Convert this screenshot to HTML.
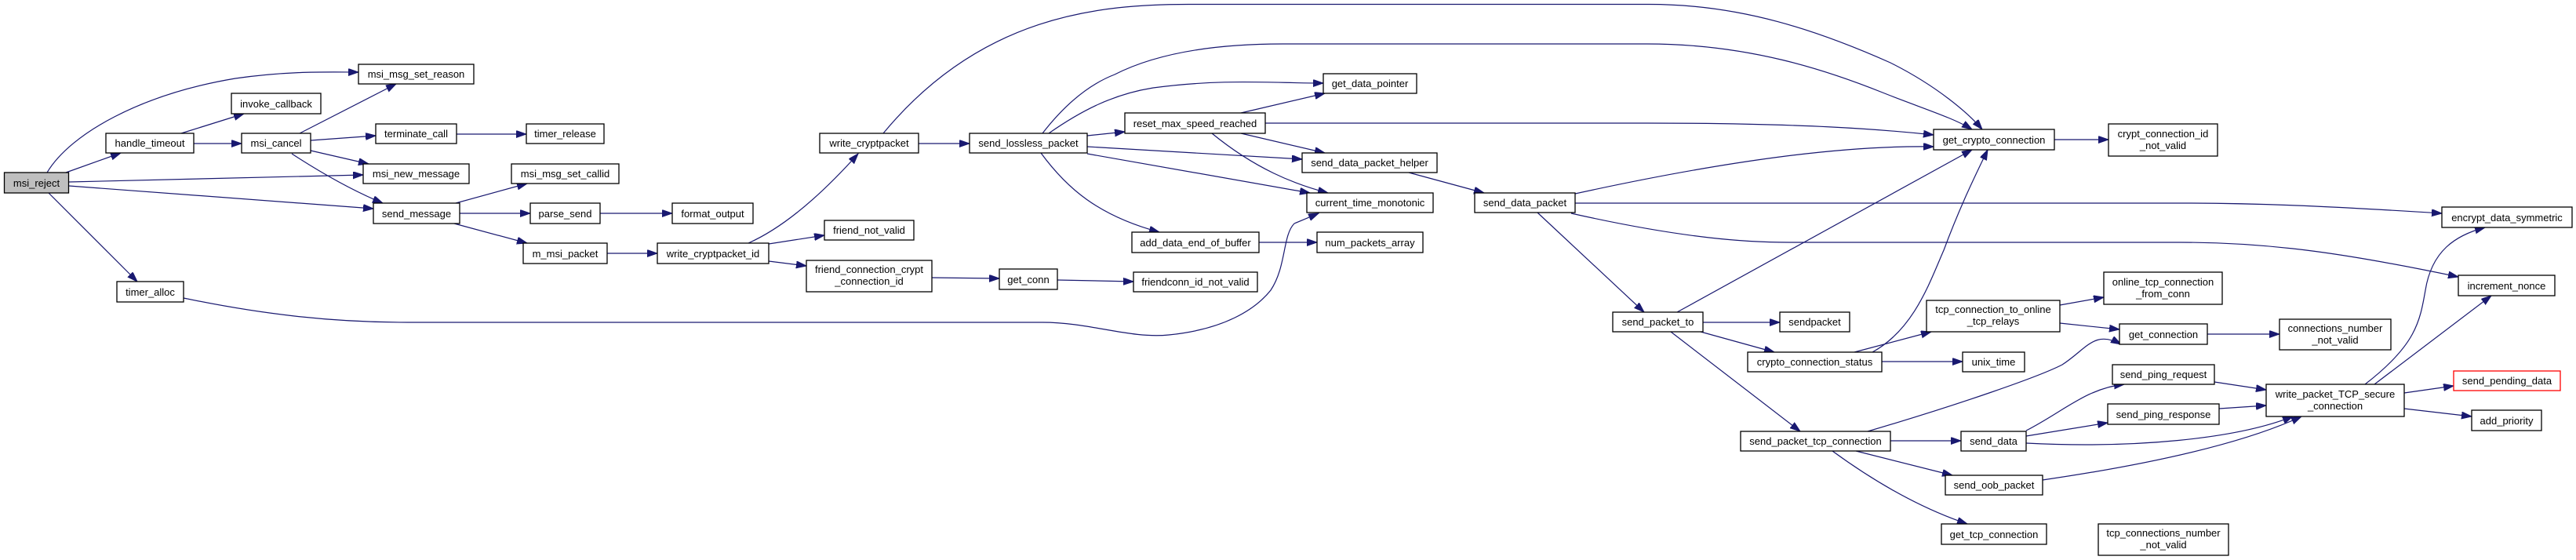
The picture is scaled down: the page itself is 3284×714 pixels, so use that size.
<!DOCTYPE html>
<html><head><meta charset="utf-8"><style>
html,body{margin:0;padding:0;background:#fff;}
svg{display:block;}
text{font-family:"Liberation Sans",Arial,sans-serif;font-size:13px;fill:#000;text-anchor:middle;}
rect{fill:#fff;stroke:#000;stroke-width:1.3;}
path.e{fill:none;stroke:#191970;stroke-width:1.2;}
</style></head><body>
<svg width="3284" height="714" viewBox="0 0 3284 714" xmlns="http://www.w3.org/2000/svg">
<defs><marker id="a" markerUnits="userSpaceOnUse" markerWidth="14" markerHeight="10" refX="13" refY="4.5" orient="auto"><path d="M0,0 L13,4.5 L0,9 z" fill="#191970" stroke="#191970"/></marker></defs>
<g marker-end="url(#a)">
<path class="e" d="M60,220 C90,170 180,120 300,100 C370,90 420,92 457,92"/>
<path class="e" d="M84,220 L154,195"/>
<path class="e" d="M88,232 L463,223"/>
<path class="e" d="M88,237 L476,266"/>
<path class="e" d="M62,246 L175,359"/>
<path class="e" d="M231,170 L311,145"/>
<path class="e" d="M247,183 L308,183"/>
<path class="e" d="M382,170 L505,107"/>
<path class="e" d="M396,179 L479,173"/>
<path class="e" d="M396,192 L470,209"/>
<path class="e" d="M372,196 Q435,237 488,259"/>
<path class="e" d="M582,171 L671,171"/>
<path class="e" d="M581,259 L672,234"/>
<path class="e" d="M586,272 L676,272"/>
<path class="e" d="M579,285 L672,310"/>
<path class="e" d="M765,272 L857,272"/>
<path class="e" d="M774,323 L838,323"/>
<path class="e" d="M954,310 Q1017,282 1094,196"/>
<path class="e" d="M980,311 L1051,300"/>
<path class="e" d="M980,333 L1028,339"/>
<path class="e" d="M234,380 C330,400 420,411 520,411 L1329,411 C1390,411 1440,432 1490,427 C1560,420 1600,395 1620,370 C1640,340 1635,300 1650,285 L1681,272"/>
<path class="e" d="M1171,183 L1236,183"/>
<path class="e" d="M1126,170 C1250,20 1400,5 1520,5.5 L2100,5.5 C2220,5 2320,40 2410,80 C2470,110 2510,145 2527,165"/>
<path class="e" d="M1329,170 C1360,130 1390,107 1421,95 C1480,65 1560,56 1635,56 L2100,56 C2230,56 2330,90 2400,118 C2450,138 2490,150 2514,165"/>
<path class="e" d="M1337,170 C1380,140 1420,120 1470,112 C1560,100 1620,106 1687,106"/>
<path class="e" d="M1386,173 L1434,168"/>
<path class="e" d="M1386,187 L1660,203"/>
<path class="e" d="M1386,196 L1670,246"/>
<path class="e" d="M1327,195 C1360,240 1400,275 1478,296"/>
<path class="e" d="M1582,144 L1689,119"/>
<path class="e" d="M1613,157 L2100,157 C2300,157 2400,165 2465,172"/>
<path class="e" d="M1582,170 L1689,195"/>
<path class="e" d="M1545,170 C1600,215 1650,235 1693,246"/>
<path class="e" d="M1796,220 L1892,246"/>
<path class="e" d="M1605,309 L1679,309"/>
<path class="e" d="M1188,354 L1274,355"/>
<path class="e" d="M1348,357 L1445,359"/>
<path class="e" d="M2008,247 C2200,205 2350,185 2465,187"/>
<path class="e" d="M2008,259 L2780,259 C2900,259 3000,265 3113,272"/>
<path class="e" d="M2003,272 C2150,305 2230,309 2281,309 L2780,309 C2900,309 3000,325 3134,353"/>
<path class="e" d="M1960,271 L2096,398"/>
<path class="e" d="M2138,398 L2514,191"/>
<path class="e" d="M2171,411 L2269,411"/>
<path class="e" d="M2168,423 L2262,449"/>
<path class="e" d="M2130,423 L2295,550"/>
<path class="e" d="M2387,449 C2440,420 2460,360 2478,319 C2500,260 2520,220 2534,191"/>
<path class="e" d="M2364,449 L2462,423"/>
<path class="e" d="M2399,461 L2502,461"/>
<path class="e" d="M2626,389 L2682,379"/>
<path class="e" d="M2626,412 L2702,420"/>
<path class="e" d="M2814,426 L2906,426"/>
<path class="e" d="M2381,550 C2500,515 2600,480 2629,465 C2660,445 2670,420 2704,439"/>
<path class="e" d="M2410,562 L2500,562"/>
<path class="e" d="M2366,575 L2489,606"/>
<path class="e" d="M2336,575 Q2425,640 2508,668"/>
<path class="e" d="M2583,549 C2630,525 2660,495 2708,490"/>
<path class="e" d="M2583,556 L2687,539"/>
<path class="e" d="M2583,565 C2720,572 2850,560 2923,531"/>
<path class="e" d="M2604,612 C2720,595 2850,570 2934,531"/>
<path class="e" d="M2823,487 L2889,497"/>
<path class="e" d="M2829,521 L2889,517"/>
<path class="e" d="M3015,490 C3080,440 3085,410 3092,370 C3100,320 3130,300 3168,290"/>
<path class="e" d="M3027,490 L3176,377"/>
<path class="e" d="M3065,501 L3128,492"/>
<path class="e" d="M3065,521 L3151,531"/>
<path class="e" d="M2619,178 L2688,178"/>
</g>
<g>
<rect x="5.5" y="220" width="82" height="26" style="fill:#bfbfbf"/><text x="46.5" y="238">msi_reject</text>
<rect x="135" y="170" width="112" height="25"/><text x="191" y="187">handle_timeout</text>
<rect x="295" y="119" width="114" height="26"/><text x="352" y="137">invoke_callback</text>
<rect x="457" y="82" width="147" height="25"/><text x="530.5" y="99">msi_msg_set_reason</text>
<rect x="308" y="170" width="88" height="25"/><text x="352" y="187">msi_cancel</text>
<rect x="479" y="158" width="103" height="25"/><text x="530.5" y="175">terminate_call</text>
<rect x="671" y="158" width="99" height="25"/><text x="720.5" y="175">timer_release</text>
<rect x="463" y="209" width="135" height="25"/><text x="530.5" y="226">msi_new_message</text>
<rect x="652" y="209" width="137" height="25"/><text x="720.5" y="226">msi_msg_set_callid</text>
<rect x="476" y="259" width="110" height="26"/><text x="531" y="277">send_message</text>
<rect x="676" y="259" width="89" height="26"/><text x="720.5" y="277">parse_send</text>
<rect x="857" y="259" width="103" height="26"/><text x="908.5" y="277">format_output</text>
<rect x="667" y="310" width="107" height="26"/><text x="720.5" y="328">m_msi_packet</text>
<rect x="838" y="310" width="142" height="26"/><text x="909" y="328">write_cryptpacket_id</text>
<rect x="149" y="359" width="85" height="26"/><text x="191.5" y="377">timer_alloc</text>
<rect x="1045" y="170" width="126" height="25"/><text x="1108" y="187">write_cryptpacket</text>
<rect x="1236" y="170" width="150" height="25"/><text x="1311" y="187">send_lossless_packet</text>
<rect x="1434" y="144" width="179" height="26"/><text x="1523.5" y="162">reset_max_speed_reached</text>
<rect x="1687" y="94" width="119" height="25"/><text x="1746.5" y="111">get_data_pointer</text>
<rect x="1660" y="195" width="172" height="25"/><text x="1746" y="212">send_data_packet_helper</text>
<rect x="1666" y="246" width="161" height="25"/><text x="1746.5" y="263">current_time_monotonic</text>
<rect x="1880" y="246" width="128" height="25"/><text x="1944" y="263">send_data_packet</text>
<rect x="1051" y="281" width="114" height="25"/><text x="1108" y="298">friend_not_valid</text>
<rect x="1028" y="332" width="160" height="40"/><text x="1108" y="348">friend_connection_crypt</text><text x="1108" y="363">_connection_id</text>
<rect x="1443" y="296" width="162" height="26"/><text x="1524" y="314">add_data_end_of_buffer</text>
<rect x="1679" y="296" width="135" height="26"/><text x="1746.5" y="314">num_packets_array</text>
<rect x="1274" y="343" width="74" height="26"/><text x="1311" y="361">get_conn</text>
<rect x="1445" y="347" width="158" height="25"/><text x="1524" y="364">friendconn_id_not_valid</text>
<rect x="2056" y="398" width="115" height="25"/><text x="2113.5" y="415">send_packet_to</text>
<rect x="2465" y="165" width="154" height="26"/><text x="2542" y="183">get_crypto_connection</text>
<rect x="2688" y="158" width="139" height="41"/><text x="2757.5" y="175">crypt_connection_id</text><text x="2757.5" y="190">_not_valid</text>
<rect x="3113" y="264" width="166" height="26"/><text x="3196" y="282">encrypt_data_symmetric</text>
<rect x="3134" y="351" width="123" height="26"/><text x="3195.5" y="369">increment_nonce</text>
<rect x="2682" y="347" width="151" height="41"/><text x="2757.5" y="364">online_tcp_connection</text><text x="2757.5" y="379">_from_conn</text>
<rect x="2269" y="398" width="89" height="25"/><text x="2313.5" y="415">sendpacket</text>
<rect x="2456" y="383" width="170" height="40"/><text x="2541" y="399">tcp_connection_to_online</text><text x="2541" y="414">_tcp_relays</text>
<rect x="2702" y="413" width="112" height="26"/><text x="2758" y="431">get_connection</text>
<rect x="2906" y="407" width="142" height="39"/><text x="2977" y="423">connections_number</text><text x="2977" y="438">_not_valid</text>
<rect x="2228" y="449" width="171" height="25"/><text x="2313.5" y="466">crypto_connection_status</text>
<rect x="2502" y="449" width="79" height="25"/><text x="2541.5" y="466">unix_time</text>
<rect x="2693" y="465" width="130" height="25"/><text x="2758" y="482">send_ping_request</text>
<rect x="2687" y="515" width="142" height="26"/><text x="2758" y="533">send_ping_response</text>
<rect x="2889" y="490" width="176" height="41"/><text x="2977" y="507">write_packet_TCP_secure</text><text x="2977" y="522">_connection</text>
<rect x="3128" y="473" width="136" height="25" style="stroke:#ff0000"/><text x="3196" y="490">send_pending_data</text>
<rect x="3151" y="523" width="89" height="26"/><text x="3195.5" y="541">add_priority</text>
<rect x="2219" y="550" width="191" height="25"/><text x="2314.5" y="567">send_packet_tcp_connection</text>
<rect x="2500" y="550" width="83" height="25"/><text x="2541.5" y="567">send_data</text>
<rect x="2480" y="606" width="124" height="25"/><text x="2542" y="623">send_oob_packet</text>
<rect x="2475" y="668" width="134" height="26"/><text x="2542" y="686">get_tcp_connection</text>
<rect x="2675" y="668" width="166" height="40"/><text x="2758" y="684">tcp_connections_number</text><text x="2758" y="699">_not_valid</text>
</g>
</svg>
</body></html>
